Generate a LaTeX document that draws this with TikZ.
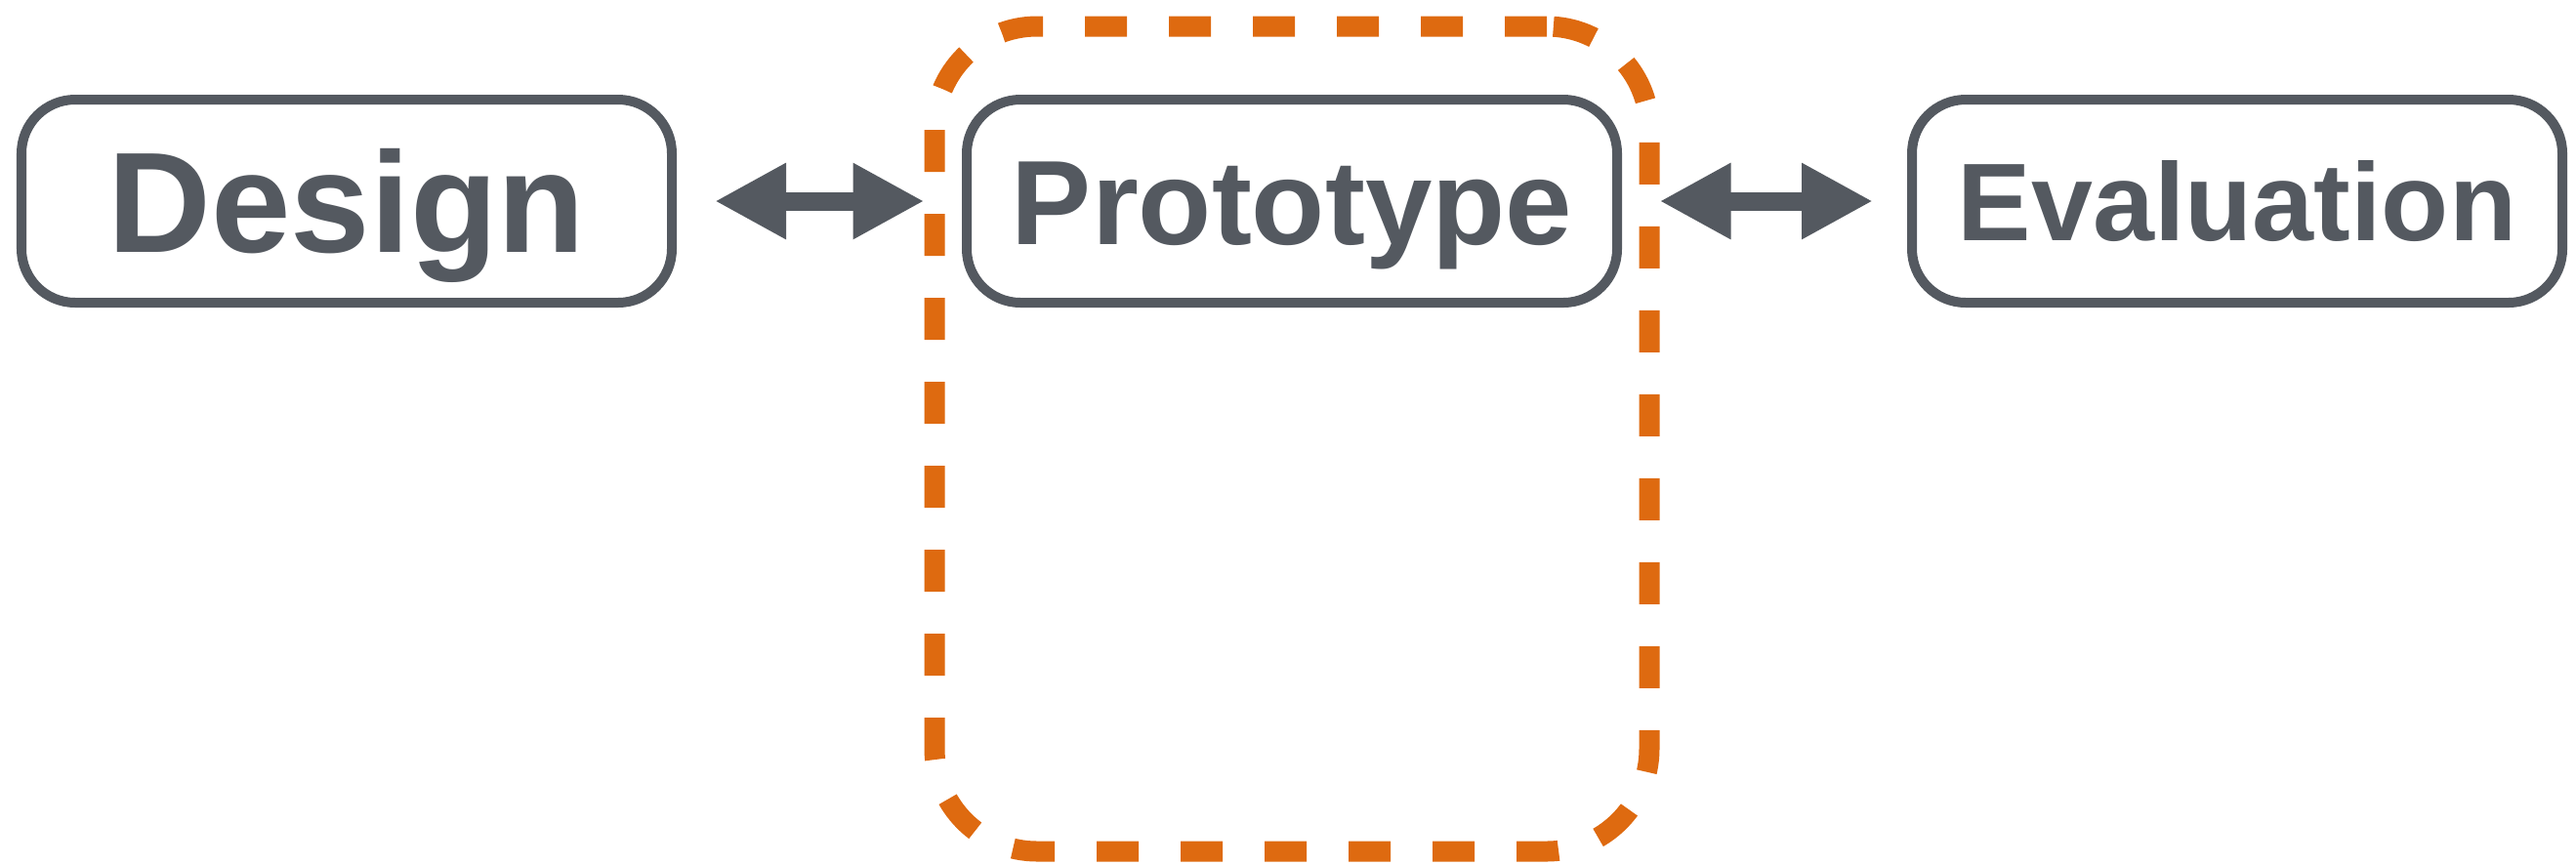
\documentclass[tikz,border=0pt]{standalone}
\usepackage{fontspec}
\setmainfont{Liberation Sans}
\usepackage{xcolor}
\usepackage{tikz}
\usetikzlibrary{arrows.meta,positioning}
\definecolor{slate}{HTML}{545960}
\definecolor{rust}{HTML}{DE6A10}
\tikzset{
  stage/.style={rectangle, rounded corners=0.55cm, draw=slate, line width=0.1cm, text=slate, align=center, minimum width=6.66cm, minimum height=2.08cm, inner sep=0pt, text depth=0pt},
  loopframe/.style={rectangle, rounded corners=1.05cm, draw=rust, line width=0.21cm, dash pattern=on 0.43cm off 0.43cm, minimum width=7.32cm, minimum height=8.45cm},
  biarrow/.style={{Triangle[length=0.73cm,width=0.73cm]}-{Triangle[length=0.73cm,width=0.73cm]}, line width=0.19cm, draw=slate}
}

\begin{document}
\begin{tikzpicture}[node distance=2.92cm]
  \useasboundingbox (0,0) rectangle (26.38,-8.85);
  \node[stage, text height=1.04cm, font=\bfseries\fontsize{41.7pt}{46pt}\selectfont] (design) at (3.55,-2.06) {Design};
  \node[stage, right=of design, text height=0.88cm, font=\bfseries\fontsize{35pt}{40pt}\selectfont] (prototype) {Prototype};
  \node[stage, right=of prototype, text height=0.81cm, font=\bfseries\fontsize{32.2pt}{36pt}\selectfont] (evaluation) {Evaluation};
  \node[loopframe] (protoframe) at ([yshift=-2.435cm]prototype.center) {};

  \draw[biarrow, shorten <=0.39cm] (design.east) -- (design.east -| protoframe.west);
  \draw[biarrow, shorten >=0.35cm] (protoframe.east |- evaluation.west) -- (evaluation.west);
\end{tikzpicture}
\end{document}
